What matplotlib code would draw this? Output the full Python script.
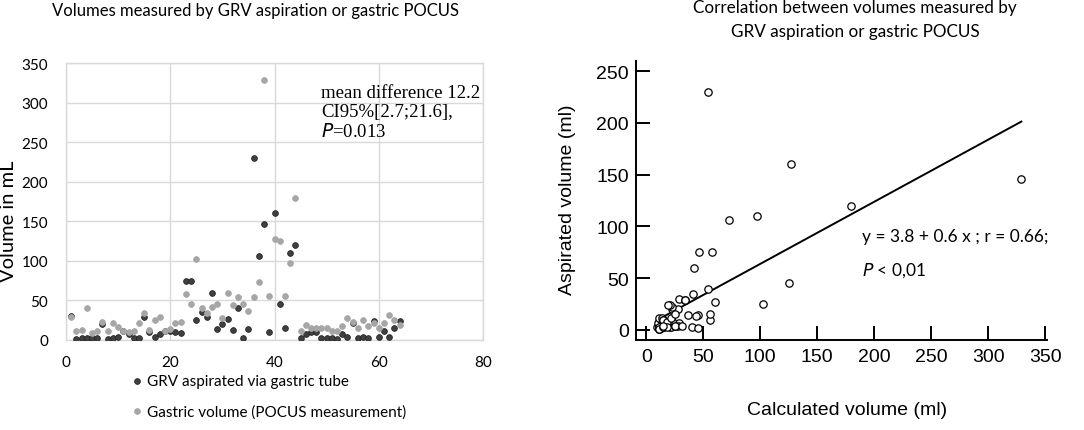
import numpy as np
import matplotlib
matplotlib.use('Agg')
import matplotlib.pyplot as plt

plt.rcParams['font.family'] = ['Lato', 'DejaVu Sans']

# ==================== data ====================
patient = np.arange(1, 65)
grv_aspirated = [30, 1, 2, 3, 3, 3, 20, 1, 3, 4, 11, 7, 2, 3, 29, 10,
                 4, 7, 12, 12, 10, 9, 75, 75, 25, 35, 29, 60, 14, 20, 27, 13,
                 40, 2, 14, 230, 106, 146, 10, 160, 45, 15, 110, 120, 2, 8, 10, 10,
                 3, 3, 3, 1, 8, 4, 22, 3, 4, 3, 24, 4, 12, 4, 15, 24]
pocus_volume = [29, 11, 13, 40, 9, 11, 23, 11, 21, 16, 12, 10, 12, 22, 34, 13,
                25, 29, 11, 14, 22, 23, 58, 46, 102, 41, 34, 42, 45, 28, 60, 44,
                54, 45, 37, 54, 73, 329, 56, 127, 125, 56, 97, 180, 11, 19, 15, 15,
                15, 15, 11, 11, 18, 28, 23, 15, 25, 18, 21, 15, 22, 31, 25, 19]
fit_intercept = 3.8
fit_slope = 0.6

left_yticks = [0, 50, 100, 150, 200, 250, 300, 350]
left_xticks = [0, 20, 40, 60, 80]
right_yticks = [0, 50, 100, 150, 200, 250]
right_xticks = [0, 50, 100, 150, 200, 250, 300, 350]

W, H = 1084, 431
fig = plt.figure(figsize=(W / 100, H / 100), dpi=100)


def box(x0, y0, x1, y1):
    # pixel box -> figure fraction rect
    return [x0 / W, 1 - y1 / H, (x1 - x0) / W, (y1 - y0) / H]


# ==================== left: per-patient volumes ====================
ax1 = fig.add_axes(box(66, 64, 483, 341))
grid_c = '#d9d9d9'
ax1.scatter(patient, grv_aspirated, s=17, color='#404040', edgecolors='#262626',
            linewidths=0.6, zorder=3, label='GRV aspirated via gastric tube')
ax1.scatter(patient, pocus_volume, s=17, color='#a6a6a6', edgecolors='#a6a6a6',
            linewidths=0.6, zorder=4, label='Gastric volume (POCUS measurement)')
ax1.set_xlim(0, 80)
ax1.set_ylim(0, 350)
ax1.set_xticks(left_xticks)
ax1.set_yticks(left_yticks)
ax1.grid(True, color=grid_c, linewidth=1.0)
ax1.set_axisbelow(True)
for sp in ax1.spines.values():
    sp.set_color(grid_c)
    sp.set_linewidth(1.0)
ax1.tick_params(length=0, labelsize=11, colors='black')
ax1.tick_params(axis='y', pad=13)
ax1.tick_params(axis='x', pad=11)

ax1.text(0.611, 0.925, 'mean difference 12.2\nCI95%[2.7;21.6],\n$\\it{P}$=0.013',
         transform=ax1.transAxes, family='Liberation Serif', fontsize=13.5,
         va='top', ha='left', linespacing=1.15, zorder=5)

fig.text(256 / W, 1 - 11 / H, 'Volumes measured by GRV aspiration or gastric POCUS',
         ha='center', va='center', fontsize=12)
fig.text(9 / W, 1 - 221 / H, 'Volume in mL', rotation=90, ha='center', va='center',
         fontsize=14.5)

ax1.legend(loc='upper left', bbox_to_anchor=(132 / W, 1 - 375 / H),
           bbox_transform=fig.transFigure, frameon=False, fontsize=11,
           handlelength=0.6, handletextpad=0.35, borderpad=0, borderaxespad=0,
           labelspacing=1.05, markerscale=1.0)

# ==================== right: correlation ====================
ax2 = fig.add_axes(box(636, 62, 1047, 341))
ax2.scatter(pocus_volume, grv_aspirated, s=28, facecolors='white', edgecolors='black',
            linewidths=0.9, zorder=3)
x_fit = np.array([min(pocus_volume), max(pocus_volume)])
ax2.plot(x_fit, fit_intercept + fit_slope * x_fit, color='black', linewidth=1.4, zorder=2)
ax2.set_xlim(-9, 351.5)
ax2.set_ylim(-9.7, 259.7)
ax2.set_xticks(right_xticks)
ax2.set_yticks(right_yticks)
for sp in ['top', 'right']:
    ax2.spines[sp].set_visible(False)
for sp in ['left', 'bottom']:
    ax2.spines[sp].set_linewidth(1.4)
ax2.tick_params(direction='in', length=10, width=1.4, labelsize=14)
for lab in ax2.get_xticklabels() + ax2.get_yticklabels():
    lab.set_family('Liberation Sans')
ax2.tick_params(axis='x', pad=6)
ax2.tick_params(axis='y', pad=5)

ax2.text(862 / W, 1 - 237 / H, 'y = 3.8 + 0.6 x ; r = 0.66;', transform=fig.transFigure,
         ha='left', va='center', fontsize=12.5)
ax2.text(862 / W, 1 - 271 / H, '$\\it{P}$ < 0,01', transform=fig.transFigure,
         ha='left', va='center', fontsize=12.5)

fig.text(855 / W, 1 - 8 / H, 'Correlation between volumes measured by',
         ha='center', va='center', fontsize=12.3)
fig.text(855 / W, 1 - 32 / H, 'GRV aspiration or gastric POCUS',
         ha='center', va='center', fontsize=12.3)
fig.text(847 / W, 1 - 411 / H, 'Calculated volume (ml)', ha='center', va='center',
         fontsize=14, family='Liberation Sans')
fig.text(567 / W, 1 - 200 / H, 'Aspirated volume (ml)', rotation=90, ha='center',
         va='center', fontsize=14, family='Liberation Sans')

fig.savefig('out.png', dpi=100)
